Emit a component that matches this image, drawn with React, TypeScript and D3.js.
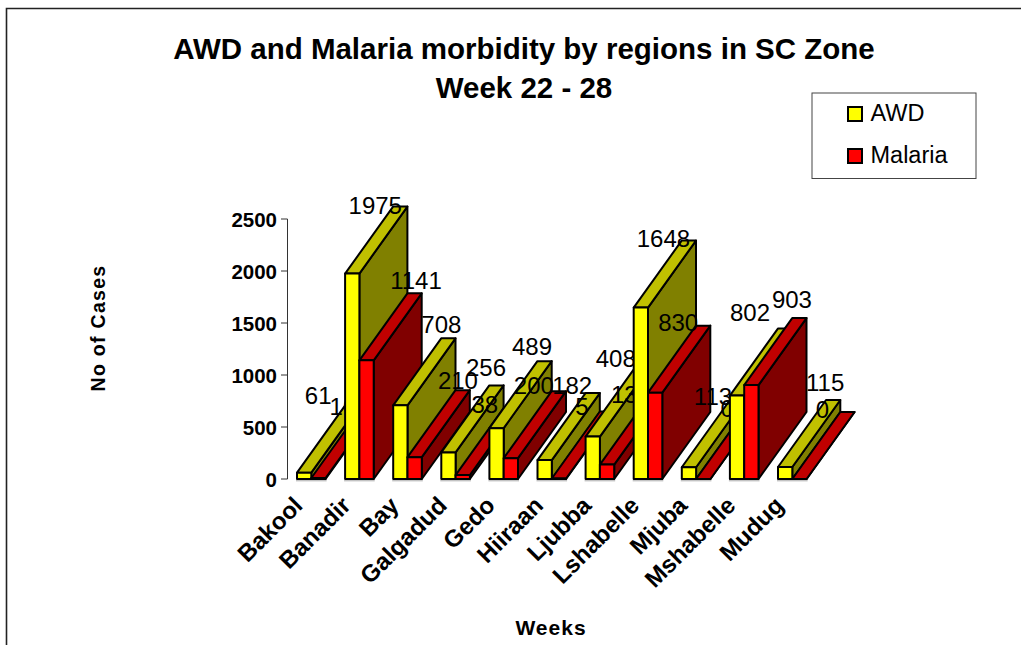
import React from "react";
import * as d3 from "d3";

const categories = ["Bakool","Banadir","Bay","Galgadud","Gedo","Hiiraan","Ljubba","Lshabelle","Mjuba","Mshabelle","Mudug"];
const awd = [61,1975,708,256,489,182,408,1648,113,802,115];
const malaria = [10,1141,210,38,200,5,139,830,0,903,0];
const yTicks = [0,500,1000,1500,2000,2500];
const titleLines = ["AWD and Malaria morbidity by regions in SC Zone","Week 22 - 28"];

// label anchor offsets (layout only), relative to bar's front top centre
const awdLabelOff: [number,number][] = [[14,-69],[23,-60],[41,-72],[37.6,-76],[35.5,-73],[27.5,-66],[23,-70],[22.6,-61],[24,-62],[13,-75],[40,-76]];
const malLabelOff: [number,number][] = [[24.5,-63],[49.4,-71],[43.3,-68],[22,-62],[23,-64],[23,-63.5],[24,-61.5],[23,-62],[24,-62],[40.6,-77],[23,-61]];

const W = 1021, H = 645;
const x = d3.scaleLinear().domain([0,10]).range([297,778]);
const y = d3.scaleLinear().domain([0,2500]).range([479,219]);
const barW = 14.3, depthX = 48, depthY = 67;
const font = "'Liberation Sans', Arial, sans-serif";
const line = d3.line();
const poly = (p: [number,number][]) => line(p)! + "Z";

function Bar({x0,v,front,top,side}:{x0:number,v:number,front:string,top:string,side:string}) {
  const x1 = x0+barW, yT = y(v), yB = y(0);
  const st = {stroke:"#000",strokeWidth:2,strokeLinejoin:"round" as const};
  return <g>
    <path d={poly([[x1,yT],[x1+depthX,yT-depthY],[x1+depthX,yB-depthY],[x1,yB]])} fill={side} {...st}/>
    <path d={poly([[x0,yT],[x0+depthX,yT-depthY],[x1+depthX,yT-depthY],[x1,yT]])} fill={top} {...st}/>
    <path d={poly([[x0,yT],[x1,yT],[x1,yB],[x0,yB]])} fill={front} {...st}/>
  </g>;
}

export default function App() {
  return <svg width={W} height={H} style={{position:"absolute",left:0,top:0,background:"#fff"}} fontFamily={font}>
    <path d="M6.5,645V8.5H1021" fill="none" stroke="#222" strokeWidth={1.6}/>
    {titleLines.map((t,i)=><text key={t} x={524} y={59+i*39} textAnchor="middle" fontWeight="bold" fontSize={29.5}>{t}</text>)}
    <rect x={812} y={93} width={164} height={85.5} fill="#fff" stroke="#444" strokeWidth={1}/>
    {[["AWD","#ffff00"],["Malaria","#ff0000"]].map(([n,c],i)=><g key={n}>
      <rect x={848} y={107+i*42} width={14} height={14} fill={c} stroke="#000" strokeWidth={2}/>
      <text x={870.5} y={120.5+i*42} fontSize={23.5}>{n}</text>
    </g>)}
    <line x1={287.5} x2={287.5} y1={y(2500)} y2={y(0)} stroke="#333" strokeWidth={1}/>
    {yTicks.map(t=><g key={t}>
      <line x1={281} x2={287.5} y1={y(t)} y2={y(t)} stroke="#333" strokeWidth={1}/>
      <text x={277} y={y(t)+7.5} textAnchor="end" fontWeight="bold" fontSize={20.5}>{t}</text>
    </g>)}
    {categories.map((c,i)=>{
      const x0 = x(i);
      const xm = x0+barW;
      return <g key={c}>
        <line x1={x0-1} x2={xm+barW+1} y1={y(0)+1.8} y2={y(0)+1.8} stroke="#aaa" strokeWidth={1}/>
        <Bar x0={x0} v={awd[i]} front="#ffff00" top="#c0c000" side="#808000"/>
        <text x={x0+barW/2+awdLabelOff[i][0]} y={y(awd[i])+awdLabelOff[i][1]} textAnchor="middle" fontSize={24}>{awd[i]}</text>
        <Bar x0={xm} v={malaria[i]} front="#ff0000" top="#c00000" side="#800000"/>
        <text x={xm+barW/2+malLabelOff[i][0]} y={y(malaria[i])+malLabelOff[i][1]} textAnchor="middle" fontSize={24}>{malaria[i]}</text>
      </g>;
    })}
    {categories.map((c,i)=>{
      const ax = x(i)+7, ay = 507;
      return <text key={c} transform={`translate(${ax},${ay}) rotate(-45)`} textAnchor="end" fontWeight="bold" fontSize={24}>{c}</text>;
    })}
    <text transform="translate(105,328) rotate(-90)" textAnchor="middle" fontWeight="bold" fontSize={19.5} letterSpacing={1.3}>No of Cases</text>
    <text x={551} y={635} textAnchor="middle" fontWeight="bold" fontSize={21} letterSpacing={1}>Weeks</text>
  </svg>;
}
